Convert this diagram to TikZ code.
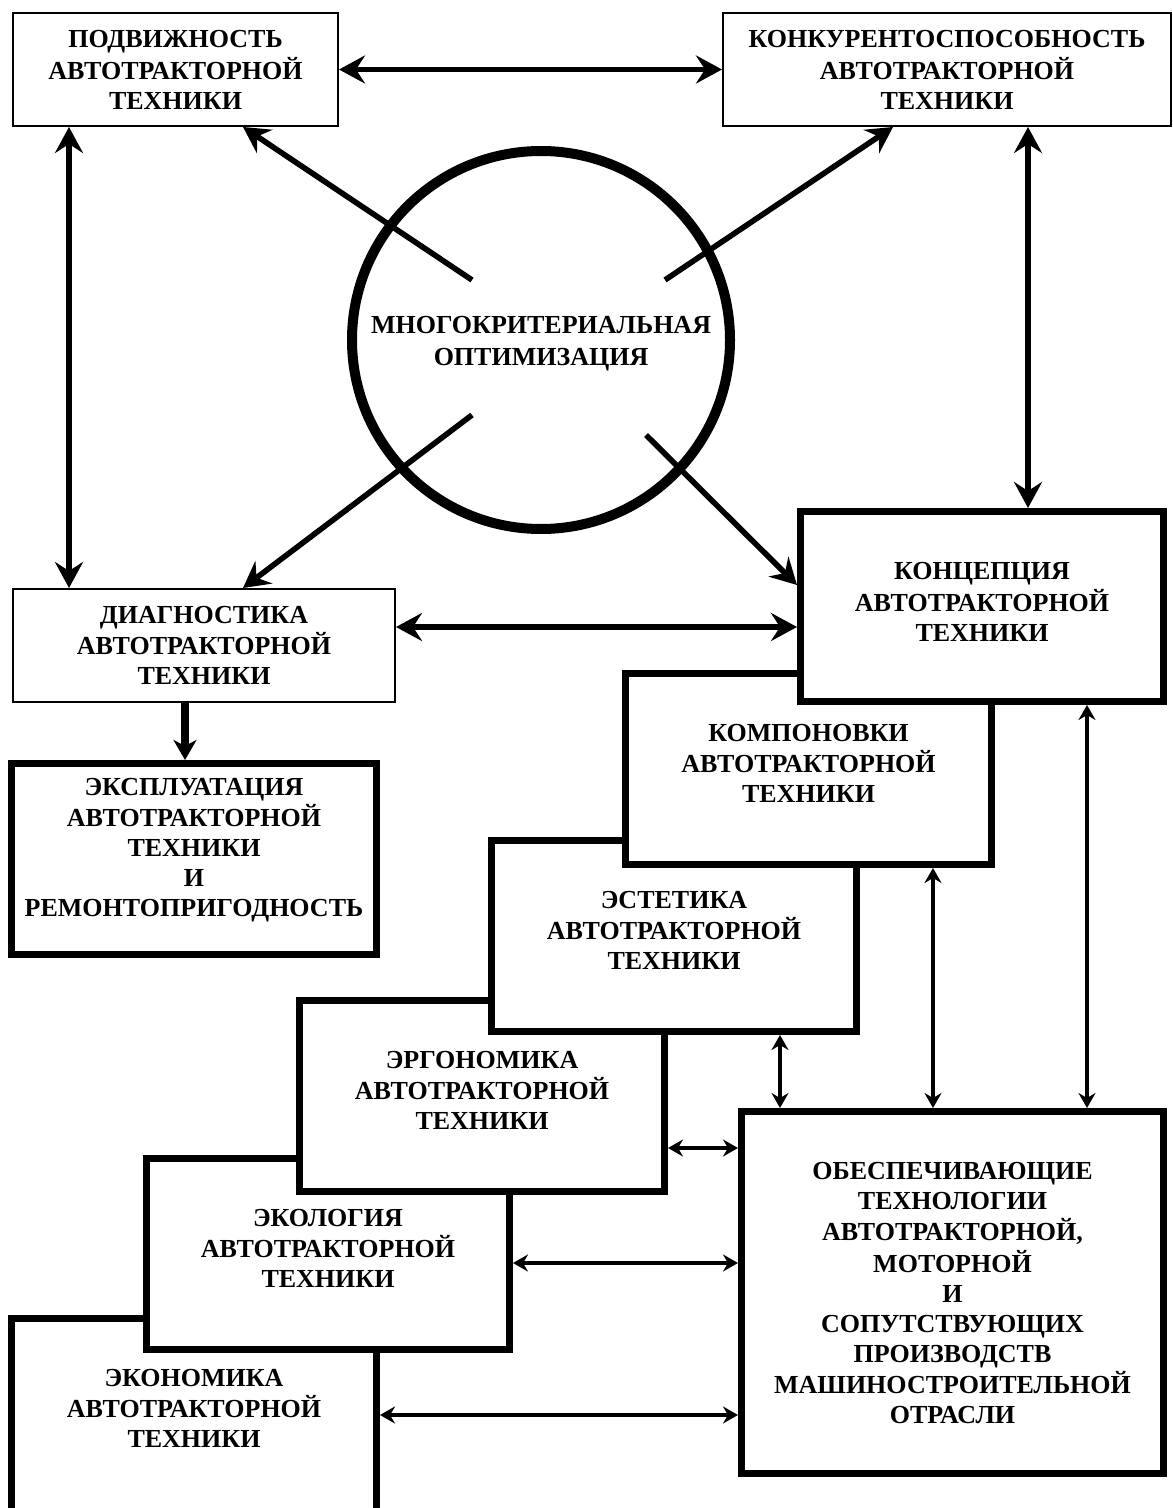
\documentclass[tikz,border=0pt]{standalone}
\usepackage{fontspec}
\setmainfont{Liberation Serif}
\usetikzlibrary{arrows.meta}
\newcommand{\liftup}[2]{\raisebox{#1}[\height][\depth]{\begin{tabular}{@{}c@{}}#2\end{tabular}}}
\tikzset{
  bigtip/.tip={Stealth[length=13pt,width=14pt,inset=4.5pt]},
  midtip/.tip={Stealth[length=10pt,width=11.5pt,inset=3pt]},
  smalltip/.tip={Stealth[length=7.5pt,width=8.5pt,inset=2.5pt]},
  lbl/.style={font=\bfseries\fontsize{13pt}{15pt}\selectfont, inner sep=0pt},
  thinbox/.style={lbl, rectangle, draw, line width=1pt, fill=white},
  thickbox/.style={lbl, rectangle, draw, line width=3.5pt, fill=white},
  bigline/.style={line width=2.8pt},
  midline/.style={line width=4pt},
  smallline/.style={line width=2.3pt},
}
\begin{document}
\begin{tikzpicture}[x=0.5pt,y=-0.5pt]
\clip (0,0) rectangle (1172,1508);
\fill[white] (0,0) rectangle (1172,1508);

% thin boxes
\node[thinbox, minimum width=162.5pt, minimum height=56.5pt] (box1) at (175.5,69.5)
  {\liftup{-1.5pt}{ПОДВИЖНОСТЬ\\АВТОТРАКТОРНОЙ\\ТЕХНИКИ}};
\node[thinbox, minimum width=224pt, minimum height=56.5pt] (box2) at (947,69.5)
  {\liftup{-1.5pt}{КОНКУРЕНТОСПОСОБНОСТЬ\\АВТОТРАКТОРНОЙ\\ТЕХНИКИ}};
\node[thinbox, minimum width=191pt, minimum height=56.5pt] (diag) at (204,645.5)
  {\liftup{-1.3pt}{ДИАГНОСТИКА\\АВТОТРАКТОРНОЙ\\ТЕХНИКИ}};

% circle
\node[lbl, circle, draw, line width=5pt, minimum size=189pt] (opt) at (541,340)
  {\liftup{-1.8pt}{МНОГОКРИТЕРИАЛЬНАЯ\\[1pt]ОПТИМИЗАЦИЯ}};

% thick boxes, stacked from bottom to top
\node[thickbox, minimum width=182.5pt, minimum height=95.5pt] (eksp) at (194,859)
  {\liftup{4.7pt}{ЭКСПЛУАТАЦИЯ\\АВТОТРАКТОРНОЙ\\ТЕХНИКИ\\И\\РЕМОНТОПРИГОДНОСТЬ}};
\node[thickbox, minimum width=182.5pt, minimum height=96.5pt] (ekon) at (194,1415)
  {\liftup{2.2pt}{ЭКОНОМИКА\\АВТОТРАКТОРНОЙ\\ТЕХНИКИ}};
\node[thickbox, minimum width=181.5pt, minimum height=95.5pt] (ekol) at (328,1254)
  {\liftup{1.7pt}{ЭКОЛОГИЯ\\АВТОТРАКТОРНОЙ\\ТЕХНИКИ}};
\node[thickbox, minimum width=182.5pt, minimum height=95.5pt] (ergo) at (482,1096)
  {\liftup{1.7pt}{ЭРГОНОМИКА\\АВТОТРАКТОРНОЙ\\ТЕХНИКИ}};
\node[thickbox, minimum width=182.5pt, minimum height=95.5pt] (estet) at (674,936)
  {\liftup{1.7pt}{ЭСТЕТИКА\\АВТОТРАКТОРНОЙ\\ТЕХНИКИ}};
\node[thickbox, minimum width=183pt, minimum height=95.5pt] (komp) at (808.5,769)
  {\liftup{1.7pt}{КОМПОНОВКИ\\АВТОТРАКТОРНОЙ\\ТЕХНИКИ}};
\node[thickbox, minimum width=181.5pt, minimum height=95pt] (concept) at (982,606.5)
  {\liftup{1pt}{КОНЦЕПЦИЯ\\АВТОТРАКТОРНОЙ\\ТЕХНИКИ}};
\node[thickbox, minimum width=211pt, minimum height=181pt] (obesp) at (952.5,1292.5)
  {\liftup{-1.5pt}{ОБЕСПЕЧИВАЮЩИЕ\\ТЕХНОЛОГИИ\\АВТОТРАКТОРНОЙ,\\МОТОРНОЙ\\И\\СОПУТСТВУЮЩИХ\\ПРОИЗВОДСТВ\\МАШИНОСТРОИТЕЛЬНОЙ\\ОТРАСЛИ}};

% helper coordinates
\coordinate (xl) at (69,0);
\coordinate (xr) at (1028,0);
\coordinate (yd) at (0,627);
\coordinate (xe) at (185,0);
\coordinate (s1) at (472,280);
\coordinate (s2) at (665,280);
\coordinate (s3) at (472,415);
\coordinate (s4) at (646,435);
\coordinate (e1) at (243,0);
\coordinate (e2) at (893,0);
\coordinate (e4) at (0,585);
\coordinate (xa) at (1087,0);
\coordinate (xb) at (933,0);
\coordinate (xc) at (780,0);
\coordinate (ya) at (0,1148);
\coordinate (yb) at (0,1263);
\coordinate (yc) at (0,1415);

% connectors
\draw[bigline, bigtip-bigtip] (box1) -- (box2);
\draw[bigline, bigtip-bigtip] (box1.south -| xl) -- (diag.north -| xl);
\draw[bigline, bigtip-bigtip] (box2.south -| xr) -- (concept.north -| xr);
\draw[bigline, bigtip-bigtip] (diag.east |- yd) -- (concept.west |- yd);
\draw[bigline, -bigtip] (s1) -- (box1.south -| e1);
\draw[bigline, -bigtip] (s2) -- (box2.south -| e2);
\draw[bigline, -bigtip] (s3) -- (diag.north -| e1);
\draw[bigline, -bigtip] (s4) -- (concept.west |- e4);
\draw[midline, -midtip] (diag.south -| xe) -- (eksp.north -| xe);
\draw[smallline, smalltip-smalltip] (concept.south -| xa) -- (obesp.north -| xa);
\draw[smallline, smalltip-smalltip] (komp.south -| xb) -- (obesp.north -| xb);
\draw[smallline, smalltip-smalltip] (estet.south -| xc) -- (obesp.north -| xc);
\draw[smallline, smalltip-smalltip] (ergo.east |- ya) -- (obesp.west |- ya);
\draw[smallline, smalltip-smalltip] (ekol.east |- yb) -- (obesp.west |- yb);
\draw[smallline, smalltip-smalltip] (ekon.east |- yc) -- (obesp.west |- yc);
\end{tikzpicture}
\end{document}
